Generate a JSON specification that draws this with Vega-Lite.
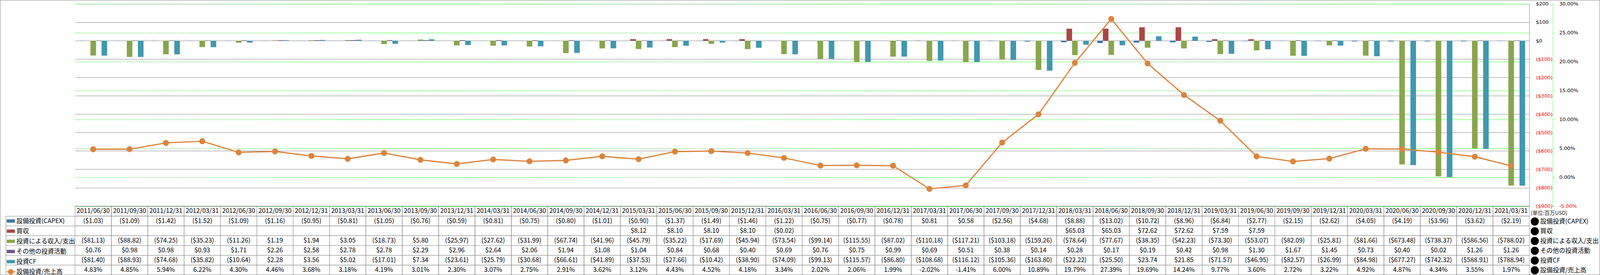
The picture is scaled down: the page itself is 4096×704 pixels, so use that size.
{
  "$schema": "https://vega.github.io/schema/vega-lite/v6.json",
  "width": 4096,
  "height": 704,
  "autosize": {"type": "none"},
  "padding": 0,
  "background": "white",
  "config": {
    "view": {"stroke": "#8A8A8A", "strokeWidth": 2},
    "locale": {"number": {"decimal": ".", "thousands": ",", "grouping": [3], "currency": ["$", ""], "minus": "-"}},
    "font": "Noto Sans CJK JP"
  },
  "data": {"values": [
    {"date":"2011/06/30","series":"設備投資(CAPEX)","v":-1.03},
    {"date":"2011/09/30","series":"設備投資(CAPEX)","v":-1.09},
    {"date":"2011/12/31","series":"設備投資(CAPEX)","v":-1.42},
    {"date":"2012/03/31","series":"設備投資(CAPEX)","v":-1.52},
    {"date":"2012/06/30","series":"設備投資(CAPEX)","v":-1.09},
    {"date":"2012/09/30","series":"設備投資(CAPEX)","v":-1.16},
    {"date":"2012/12/31","series":"設備投資(CAPEX)","v":-0.95},
    {"date":"2013/03/31","series":"設備投資(CAPEX)","v":-0.81},
    {"date":"2013/06/30","series":"設備投資(CAPEX)","v":-1.05},
    {"date":"2013/09/30","series":"設備投資(CAPEX)","v":-0.76},
    {"date":"2013/12/31","series":"設備投資(CAPEX)","v":-0.59},
    {"date":"2014/03/31","series":"設備投資(CAPEX)","v":-0.81},
    {"date":"2014/06/30","series":"設備投資(CAPEX)","v":-0.75},
    {"date":"2014/09/30","series":"設備投資(CAPEX)","v":-0.80},
    {"date":"2014/12/31","series":"設備投資(CAPEX)","v":-1.01},
    {"date":"2015/03/31","series":"設備投資(CAPEX)","v":-0.90},
    {"date":"2015/06/30","series":"設備投資(CAPEX)","v":-1.37},
    {"date":"2015/09/30","series":"設備投資(CAPEX)","v":-1.49},
    {"date":"2015/12/31","series":"設備投資(CAPEX)","v":-1.46},
    {"date":"2016/03/31","series":"設備投資(CAPEX)","v":-1.22},
    {"date":"2016/06/30","series":"設備投資(CAPEX)","v":-0.75},
    {"date":"2016/09/30","series":"設備投資(CAPEX)","v":-0.77},
    {"date":"2016/12/31","series":"設備投資(CAPEX)","v":-0.78},
    {"date":"2017/03/31","series":"設備投資(CAPEX)","v":0.81},
    {"date":"2017/06/30","series":"設備投資(CAPEX)","v":0.58},
    {"date":"2017/09/30","series":"設備投資(CAPEX)","v":-2.56},
    {"date":"2017/12/31","series":"設備投資(CAPEX)","v":-4.68},
    {"date":"2018/03/31","series":"設備投資(CAPEX)","v":-8.88},
    {"date":"2018/06/30","series":"設備投資(CAPEX)","v":-13.02},
    {"date":"2018/09/30","series":"設備投資(CAPEX)","v":-10.72},
    {"date":"2018/12/31","series":"設備投資(CAPEX)","v":-8.96},
    {"date":"2019/03/31","series":"設備投資(CAPEX)","v":-6.84},
    {"date":"2019/06/30","series":"設備投資(CAPEX)","v":-2.77},
    {"date":"2019/09/30","series":"設備投資(CAPEX)","v":-2.15},
    {"date":"2019/12/31","series":"設備投資(CAPEX)","v":-2.62},
    {"date":"2020/03/31","series":"設備投資(CAPEX)","v":-4.05},
    {"date":"2020/06/30","series":"設備投資(CAPEX)","v":-4.19},
    {"date":"2020/09/30","series":"設備投資(CAPEX)","v":-3.96},
    {"date":"2020/12/31","series":"設備投資(CAPEX)","v":-3.62},
    {"date":"2021/03/31","series":"設備投資(CAPEX)","v":-2.19},
    {"date":"2011/06/30","series":"買収","v":null},
    {"date":"2011/09/30","series":"買収","v":null},
    {"date":"2011/12/31","series":"買収","v":null},
    {"date":"2012/03/31","series":"買収","v":null},
    {"date":"2012/06/30","series":"買収","v":null},
    {"date":"2012/09/30","series":"買収","v":null},
    {"date":"2012/12/31","series":"買収","v":null},
    {"date":"2013/03/31","series":"買収","v":null},
    {"date":"2013/06/30","series":"買収","v":null},
    {"date":"2013/09/30","series":"買収","v":null},
    {"date":"2013/12/31","series":"買収","v":null},
    {"date":"2014/03/31","series":"買収","v":null},
    {"date":"2014/06/30","series":"買収","v":null},
    {"date":"2014/09/30","series":"買収","v":null},
    {"date":"2014/12/31","series":"買収","v":null},
    {"date":"2015/03/31","series":"買収","v":8.12},
    {"date":"2015/06/30","series":"買収","v":8.10},
    {"date":"2015/09/30","series":"買収","v":8.10},
    {"date":"2015/12/31","series":"買収","v":8.10},
    {"date":"2016/03/31","series":"買収","v":-0.02},
    {"date":"2016/06/30","series":"買収","v":null},
    {"date":"2016/09/30","series":"買収","v":null},
    {"date":"2016/12/31","series":"買収","v":null},
    {"date":"2017/03/31","series":"買収","v":null},
    {"date":"2017/06/30","series":"買収","v":null},
    {"date":"2017/09/30","series":"買収","v":null},
    {"date":"2017/12/31","series":"買収","v":null},
    {"date":"2018/03/31","series":"買収","v":65.03},
    {"date":"2018/06/30","series":"買収","v":65.03},
    {"date":"2018/09/30","series":"買収","v":72.62},
    {"date":"2018/12/31","series":"買収","v":72.62},
    {"date":"2019/03/31","series":"買収","v":7.59},
    {"date":"2019/06/30","series":"買収","v":7.59},
    {"date":"2019/09/30","series":"買収","v":null},
    {"date":"2019/12/31","series":"買収","v":null},
    {"date":"2020/03/31","series":"買収","v":null},
    {"date":"2020/06/30","series":"買収","v":null},
    {"date":"2020/09/30","series":"買収","v":null},
    {"date":"2020/12/31","series":"買収","v":null},
    {"date":"2021/03/31","series":"買収","v":null},
    {"date":"2011/06/30","series":"投資による収入/支出","v":-81.13},
    {"date":"2011/09/30","series":"投資による収入/支出","v":-88.82},
    {"date":"2011/12/31","series":"投資による収入/支出","v":-74.25},
    {"date":"2012/03/31","series":"投資による収入/支出","v":-35.23},
    {"date":"2012/06/30","series":"投資による収入/支出","v":-11.26},
    {"date":"2012/09/30","series":"投資による収入/支出","v":1.19},
    {"date":"2012/12/31","series":"投資による収入/支出","v":1.94},
    {"date":"2013/03/31","series":"投資による収入/支出","v":3.05},
    {"date":"2013/06/30","series":"投資による収入/支出","v":-18.73},
    {"date":"2013/09/30","series":"投資による収入/支出","v":5.80},
    {"date":"2013/12/31","series":"投資による収入/支出","v":-25.97},
    {"date":"2014/03/31","series":"投資による収入/支出","v":-27.62},
    {"date":"2014/06/30","series":"投資による収入/支出","v":-31.99},
    {"date":"2014/09/30","series":"投資による収入/支出","v":-67.74},
    {"date":"2014/12/31","series":"投資による収入/支出","v":-41.96},
    {"date":"2015/03/31","series":"投資による収入/支出","v":-45.79},
    {"date":"2015/06/30","series":"投資による収入/支出","v":-35.22},
    {"date":"2015/09/30","series":"投資による収入/支出","v":-17.69},
    {"date":"2015/12/31","series":"投資による収入/支出","v":-45.94},
    {"date":"2016/03/31","series":"投資による収入/支出","v":-73.54},
    {"date":"2016/06/30","series":"投資による収入/支出","v":-99.14},
    {"date":"2016/09/30","series":"投資による収入/支出","v":-115.55},
    {"date":"2016/12/31","series":"投資による収入/支出","v":-87.02},
    {"date":"2017/03/31","series":"投資による収入/支出","v":-110.18},
    {"date":"2017/06/30","series":"投資による収入/支出","v":-117.21},
    {"date":"2017/09/30","series":"投資による収入/支出","v":-103.18},
    {"date":"2017/12/31","series":"投資による収入/支出","v":-159.26},
    {"date":"2018/03/31","series":"投資による収入/支出","v":-78.64},
    {"date":"2018/06/30","series":"投資による収入/支出","v":-77.67},
    {"date":"2018/09/30","series":"投資による収入/支出","v":-38.35},
    {"date":"2018/12/31","series":"投資による収入/支出","v":-42.23},
    {"date":"2019/03/31","series":"投資による収入/支出","v":-73.30},
    {"date":"2019/06/30","series":"投資による収入/支出","v":-53.07},
    {"date":"2019/09/30","series":"投資による収入/支出","v":-82.09},
    {"date":"2019/12/31","series":"投資による収入/支出","v":-25.81},
    {"date":"2020/03/31","series":"投資による収入/支出","v":-81.66},
    {"date":"2020/06/30","series":"投資による収入/支出","v":-673.48},
    {"date":"2020/09/30","series":"投資による収入/支出","v":-738.37},
    {"date":"2020/12/31","series":"投資による収入/支出","v":-586.56},
    {"date":"2021/03/31","series":"投資による収入/支出","v":-788.02},
    {"date":"2011/06/30","series":"その他の投資活動","v":0.76},
    {"date":"2011/09/30","series":"その他の投資活動","v":0.98},
    {"date":"2011/12/31","series":"その他の投資活動","v":0.98},
    {"date":"2012/03/31","series":"その他の投資活動","v":0.93},
    {"date":"2012/06/30","series":"その他の投資活動","v":1.71},
    {"date":"2012/09/30","series":"その他の投資活動","v":2.26},
    {"date":"2012/12/31","series":"その他の投資活動","v":2.58},
    {"date":"2013/03/31","series":"その他の投資活動","v":2.78},
    {"date":"2013/06/30","series":"その他の投資活動","v":2.78},
    {"date":"2013/09/30","series":"その他の投資活動","v":2.29},
    {"date":"2013/12/31","series":"その他の投資活動","v":2.96},
    {"date":"2014/03/31","series":"その他の投資活動","v":2.64},
    {"date":"2014/06/30","series":"その他の投資活動","v":2.06},
    {"date":"2014/09/30","series":"その他の投資活動","v":1.94},
    {"date":"2014/12/31","series":"その他の投資活動","v":1.08},
    {"date":"2015/03/31","series":"その他の投資活動","v":1.04},
    {"date":"2015/06/30","series":"その他の投資活動","v":0.84},
    {"date":"2015/09/30","series":"その他の投資活動","v":0.68},
    {"date":"2015/12/31","series":"その他の投資活動","v":0.40},
    {"date":"2016/03/31","series":"その他の投資活動","v":0.69},
    {"date":"2016/06/30","series":"その他の投資活動","v":0.76},
    {"date":"2016/09/30","series":"その他の投資活動","v":0.75},
    {"date":"2016/12/31","series":"その他の投資活動","v":0.99},
    {"date":"2017/03/31","series":"その他の投資活動","v":0.69},
    {"date":"2017/06/30","series":"その他の投資活動","v":0.51},
    {"date":"2017/09/30","series":"その他の投資活動","v":0.38},
    {"date":"2017/12/31","series":"その他の投資活動","v":0.14},
    {"date":"2018/03/31","series":"その他の投資活動","v":0.28},
    {"date":"2018/06/30","series":"その他の投資活動","v":0.17},
    {"date":"2018/09/30","series":"その他の投資活動","v":0.19},
    {"date":"2018/12/31","series":"その他の投資活動","v":0.42},
    {"date":"2019/03/31","series":"その他の投資活動","v":0.98},
    {"date":"2019/06/30","series":"その他の投資活動","v":1.30},
    {"date":"2019/09/30","series":"その他の投資活動","v":1.67},
    {"date":"2019/12/31","series":"その他の投資活動","v":1.45},
    {"date":"2020/03/31","series":"その他の投資活動","v":0.73},
    {"date":"2020/06/30","series":"その他の投資活動","v":0.40},
    {"date":"2020/09/30","series":"その他の投資活動","v":0.02},
    {"date":"2020/12/31","series":"その他の投資活動","v":1.26},
    {"date":"2021/03/31","series":"その他の投資活動","v":1.26},
    {"date":"2011/06/30","series":"投資CF","v":-81.40},
    {"date":"2011/09/30","series":"投資CF","v":-88.93},
    {"date":"2011/12/31","series":"投資CF","v":-74.68},
    {"date":"2012/03/31","series":"投資CF","v":-35.82},
    {"date":"2012/06/30","series":"投資CF","v":-10.64},
    {"date":"2012/09/30","series":"投資CF","v":2.28},
    {"date":"2012/12/31","series":"投資CF","v":3.56},
    {"date":"2013/03/31","series":"投資CF","v":5.02},
    {"date":"2013/06/30","series":"投資CF","v":-17.01},
    {"date":"2013/09/30","series":"投資CF","v":7.34},
    {"date":"2013/12/31","series":"投資CF","v":-23.61},
    {"date":"2014/03/31","series":"投資CF","v":-25.79},
    {"date":"2014/06/30","series":"投資CF","v":-30.68},
    {"date":"2014/09/30","series":"投資CF","v":-66.61},
    {"date":"2014/12/31","series":"投資CF","v":-41.89},
    {"date":"2015/03/31","series":"投資CF","v":-37.53},
    {"date":"2015/06/30","series":"投資CF","v":-27.66},
    {"date":"2015/09/30","series":"投資CF","v":-10.42},
    {"date":"2015/12/31","series":"投資CF","v":-38.90},
    {"date":"2016/03/31","series":"投資CF","v":-74.09},
    {"date":"2016/06/30","series":"投資CF","v":-99.13},
    {"date":"2016/09/30","series":"投資CF","v":-115.57},
    {"date":"2016/12/31","series":"投資CF","v":-86.80},
    {"date":"2017/03/31","series":"投資CF","v":-108.68},
    {"date":"2017/06/30","series":"投資CF","v":-116.12},
    {"date":"2017/09/30","series":"投資CF","v":-105.36},
    {"date":"2017/12/31","series":"投資CF","v":-163.80},
    {"date":"2018/03/31","series":"投資CF","v":-22.22},
    {"date":"2018/06/30","series":"投資CF","v":-25.50},
    {"date":"2018/09/30","series":"投資CF","v":23.74},
    {"date":"2018/12/31","series":"投資CF","v":21.85},
    {"date":"2019/03/31","series":"投資CF","v":-71.57},
    {"date":"2019/06/30","series":"投資CF","v":-46.95},
    {"date":"2019/09/30","series":"投資CF","v":-82.57},
    {"date":"2019/12/31","series":"投資CF","v":-26.99},
    {"date":"2020/03/31","series":"投資CF","v":-84.98},
    {"date":"2020/06/30","series":"投資CF","v":-677.27},
    {"date":"2020/09/30","series":"投資CF","v":-742.32},
    {"date":"2020/12/31","series":"投資CF","v":-588.91},
    {"date":"2021/03/31","series":"投資CF","v":-788.94},
    {"date":"2011/06/30","series":"設備投資/売上高","v":0.0483},
    {"date":"2011/09/30","series":"設備投資/売上高","v":0.0485},
    {"date":"2011/12/31","series":"設備投資/売上高","v":0.0594},
    {"date":"2012/03/31","series":"設備投資/売上高","v":0.0622},
    {"date":"2012/06/30","series":"設備投資/売上高","v":0.0430},
    {"date":"2012/09/30","series":"設備投資/売上高","v":0.0446},
    {"date":"2012/12/31","series":"設備投資/売上高","v":0.0368},
    {"date":"2013/03/31","series":"設備投資/売上高","v":0.0318},
    {"date":"2013/06/30","series":"設備投資/売上高","v":0.0419},
    {"date":"2013/09/30","series":"設備投資/売上高","v":0.0301},
    {"date":"2013/12/31","series":"設備投資/売上高","v":0.0230},
    {"date":"2014/03/31","series":"設備投資/売上高","v":0.0307},
    {"date":"2014/06/30","series":"設備投資/売上高","v":0.0275},
    {"date":"2014/09/30","series":"設備投資/売上高","v":0.0291},
    {"date":"2014/12/31","series":"設備投資/売上高","v":0.0362},
    {"date":"2015/03/31","series":"設備投資/売上高","v":0.0312},
    {"date":"2015/06/30","series":"設備投資/売上高","v":0.0443},
    {"date":"2015/09/30","series":"設備投資/売上高","v":0.0452},
    {"date":"2015/12/31","series":"設備投資/売上高","v":0.0418},
    {"date":"2016/03/31","series":"設備投資/売上高","v":0.0334},
    {"date":"2016/06/30","series":"設備投資/売上高","v":0.0202},
    {"date":"2016/09/30","series":"設備投資/売上高","v":0.0206},
    {"date":"2016/12/31","series":"設備投資/売上高","v":0.0199},
    {"date":"2017/03/31","series":"設備投資/売上高","v":-0.0202},
    {"date":"2017/06/30","series":"設備投資/売上高","v":-0.0141},
    {"date":"2017/09/30","series":"設備投資/売上高","v":0.0600},
    {"date":"2017/12/31","series":"設備投資/売上高","v":0.1089},
    {"date":"2018/03/31","series":"設備投資/売上高","v":0.1979},
    {"date":"2018/06/30","series":"設備投資/売上高","v":0.2739},
    {"date":"2018/09/30","series":"設備投資/売上高","v":0.1969},
    {"date":"2018/12/31","series":"設備投資/売上高","v":0.1424},
    {"date":"2019/03/31","series":"設備投資/売上高","v":0.0977},
    {"date":"2019/06/30","series":"設備投資/売上高","v":0.0360},
    {"date":"2019/09/30","series":"設備投資/売上高","v":0.0272},
    {"date":"2019/12/31","series":"設備投資/売上高","v":0.0322},
    {"date":"2020/03/31","series":"設備投資/売上高","v":0.0492},
    {"date":"2020/06/30","series":"設備投資/売上高","v":0.0487},
    {"date":"2020/09/30","series":"設備投資/売上高","v":0.0434},
    {"date":"2020/12/31","series":"設備投資/売上高","v":0.0355},
    {"date":"2021/03/31","series":"設備投資/売上高","v":0.0197}
  ]},
  "resolve": {"scale": {"y": "independent"}},
  "layer": [
    {
      "transform": [{"filter": "datum.series !== '設備投資/売上高' && datum.v != null"}],
      "mark": {"type": "bar", "strokeWidth": 0},
      "encoding": {
        "x": {"field": "date", "type": "ordinal", "axis": null,
              "scale": {"range": [192.1, 3915.1], "paddingInner": 0, "paddingOuter": 0}},
        "xOffset": {"field": "series", "type": "nominal",
              "scale": {"domain": ["設備投資(CAPEX)", "買収", "投資による収入/支出", "その他の投資活動", "投資CF"], "paddingInner": 0, "paddingOuter": 0.76}},
        "y": {"field": "v", "type": "quantitative",
              "scale": {"domain": [-900, 200], "range": [527.6, 9.9], "nice": false, "zero": false},
              "axis": {"orient": "left", "offset": -3915.1, "title": null,
                       "values": [200, 100, 0, -100, -200, -300, -400, -500, -600, -700, -800, -900],
                       "format": "($.0f", "grid": true, "gridColor": "#888888", "gridWidth": 1,
                       "domain": true, "domainColor": "#888888", "domainWidth": 1, "ticks": false,
                       "labelPadding": -16.3, "labelAlign": "left", "labelBaseline": "middle",
                       "labelFont": "DejaVu Sans", "labelFontSize": 12.8, "labelOverlap": false,
                       "labelColor": {"condition": {"test": "datum.value < 0", "value": "#FF0000"}, "value": "#000000"},
                       "encoding": {"grid": {"x": {"value": -3723}, "x2": {"value": 0}}}}},
        "color": {"field": "series", "type": "nominal",
              "scale": {"domain": ["設備投資(CAPEX)", "買収", "投資による収入/支出", "その他の投資活動", "投資CF", "設備投資/売上高"],
                        "range": ["#4572A7", "#AA4643", "#89A54E", "#71588F", "#4198AF", "#DB843D"]},
              "legend": {"orient": "none", "legendX": 17.1, "legendY": 553.2, "title": null, "direction": "vertical",
                         "padding": 0, "rowPadding": 0, "clipHeight": 25.1, "symbolSize": 441, "symbolStrokeWidth": 0, "labelOffset": 4,
                         "labelFont": "Noto Sans CJK JP", "labelFontSize": 16, "labelColor": "#000000", "labelLimit": 400,
                         "values": ["設備投資(CAPEX)", "買収", "投資による収入/支出", "その他の投資活動", "投資CF", "設備投資/売上高"],
                         "encode": {"symbols": {"update": {
                           "shape": {"signal": "datum.value === '設備投資/売上高' ? 'M-1.15,-0.13H1.15V0.13H-1.15Z M-0.66,0A0.66,0.66 0 1,1 0.66,0A0.66,0.66 0 1,1 -0.66,0Z' : 'M-1,-0.41H1V0.41H-1Z'"},
                           "size": {"value": 441},
                           "fill": {"signal": "scale('color', datum.value)"},
                           "stroke": {"value": "transparent"},
                           "strokeWidth": {"value": 0},
                           "opacity": {"value": 1}
                         }}}
              }
        },
        "stroke": {"field": "series", "type": "nominal",
              "scale": {"domain": ["設備投資/売上高", "投資CF", "その他の投資活動", "投資による収入/支出", "買収", "設備投資(CAPEX)"],
                        "range": ["#DB843D", "#4198AF", "#71588F", "#89A54E", "#AA4643", "#4572A7"]},
              "legend": {"orient": "none", "legendX": 3918.5, "legendY": 539.1, "title": "(単位:百万USD)",
                         "titleFont": "Noto Sans CJK JP", "titleFontSize": 13.5, "titleFontWeight": "normal",
                         "titleColor": "#222222", "titlePadding": 2, "titleAnchor": "start",
                         "direction": "vertical", "padding": 0, "rowPadding": 0, "clipHeight": 24.75,
                         "symbolSize": 441, "symbolStrokeWidth": 0, "labelOffset": 3.5,
                         "labelFont": "Noto Sans CJK JP", "labelFontSize": 16, "labelColor": "#000000", "labelLimit": 400,
                         "values": ["設備投資(CAPEX)", "買収", "投資による収入/支出", "その他の投資活動", "投資CF", "設備投資/売上高"],
                         "encode": {"symbols": {"update": {
                           "shape": {"signal": "datum.value === '設備投資/売上高' ? 'M-1.15,-0.13H1.15V0.13H-1.15Z M-0.66,0A0.66,0.66 0 1,1 0.66,0A0.66,0.66 0 1,1 -0.66,0Z' : 'M-1,-0.41H1V0.41H-1Z'"},
                           "size": {"value": 441},
                           "fill": {"signal": "scale('color', datum.value)"},
                           "stroke": {"value": "transparent"},
                           "strokeWidth": {"value": 0},
                           "opacity": {"value": 1}
                         }}}
              }
        }
      }
    },
    {
      "transform": [{"filter": "datum.series === '設備投資/売上高'"}],
      "mark": {"type": "line", "strokeWidth": 3.1, "point": {"filled": true, "size": 174}},
      "encoding": {
        "x": {"field": "date", "type": "ordinal", "axis": null},
        "y": {"field": "v", "type": "quantitative",
              "scale": {"domain": [-0.05, 0.30], "range": [527.6, 9.9], "nice": false, "zero": false},
              "axis": {"orient": "left", "offset": -3975.1, "title": null,
                       "values": [0.3, 0.25, 0.2, 0.15, 0.1, 0.05, 0, -0.05],
                       "format": ".2%", "grid": true, "gridColor": "#00FF00", "gridDash": [3.3, 1.8], "gridWidth": 1,
                       "domain": true, "domainColor": "#00FF00", "domainDash": [3, 2], "domainWidth": 1,
                       "ticks": true, "tickSize": -5.5, "tickColor": "#00FF00", "tickDash": [2, 1.5], "tickWidth": 1,
                       "labelPadding": -10.6, "labelAlign": "left", "labelBaseline": "middle",
                       "labelFont": "DejaVu Sans", "labelFontSize": 12.8, "labelOverlap": false,
                       "labelColor": {"condition": {"test": "datum.value < 0", "value": "#FF0000"}, "value": "#000000"},
                       "encoding": {"grid": {"x": {"value": -3783}, "x2": {"value": -60}}}}},
        "color": {"field": "series", "type": "nominal"},
        "stroke": {"field": "series", "type": "nominal"}
      }
    },
    {
      "transform": [{"filter": "datum.series === '設備投資(CAPEX)'"}],
      "layer": [
        {
          "mark": {"type": "rect", "fill": "transparent", "stroke": "#888888", "strokeWidth": 1},
          "encoding": {
            "x": {"field": "date", "type": "ordinal", "axis": null},
            "y": {"datum": "hdr", "type": "nominal", "axis": null,
                  "scale": {"domain": ["hdr"], "range": [527.6, 553.2], "paddingInner": 0, "paddingOuter": 0}}
          }
        },
        {
          "mark": {"type": "text", "font": "Noto Sans CJK JP", "fontSize": 16.2, "color": "#000000"},
          "encoding": {
            "x": {"field": "date", "type": "ordinal", "axis": null},
            "y": {"datum": "hdr", "type": "nominal", "axis": null},
            "text": {"field": "date", "type": "nominal"}
          }
        }
      ]
    },
    {
      "layer": [
        {
          "mark": {"type": "rect", "fill": "transparent", "stroke": "#888888", "strokeWidth": 1},
          "encoding": {
            "x": {"field": "date", "type": "ordinal", "axis": null},
            "y": {"field": "series", "type": "nominal",
                  "scale": {"domain": ["設備投資(CAPEX)", "買収", "投資による収入/支出", "その他の投資活動", "投資CF", "設備投資/売上高"],
                            "range": [553.2, 703.8], "paddingInner": 0, "paddingOuter": 0},
                  "axis": {"orient": "left", "offset": -14.5, "title": null, "bandPosition": 0,
                           "ticks": true, "tickSize": -177.6, "tickColor": "#888888", "tickWidth": 1,
                           "domain": true, "domainColor": "#888888", "domainWidth": 1,
                           "labels": false, "grid": false}}
          }
        },
        {
          "transform": [{"filter": "datum.v != null && datum.series !== '設備投資/売上高'"}],
          "mark": {"type": "text", "font": "Noto Sans CJK JP", "fontSize": 16.2, "color": "#000000"},
          "encoding": {
            "x": {"field": "date", "type": "ordinal", "axis": null},
            "y": {"field": "series", "type": "nominal"},
            "text": {"field": "v", "type": "quantitative", "format": "($.2f"}
          }
        },
        {
          "transform": [{"filter": "datum.series === '設備投資/売上高'"}],
          "mark": {"type": "text", "font": "Noto Sans CJK JP", "fontSize": 16.2, "color": "#000000"},
          "encoding": {
            "x": {"field": "date", "type": "ordinal", "axis": null},
            "y": {"field": "series", "type": "nominal"},
            "text": {"field": "v", "type": "quantitative", "format": ".2%"}
          }
        }
      ]
    }
  ]
}
